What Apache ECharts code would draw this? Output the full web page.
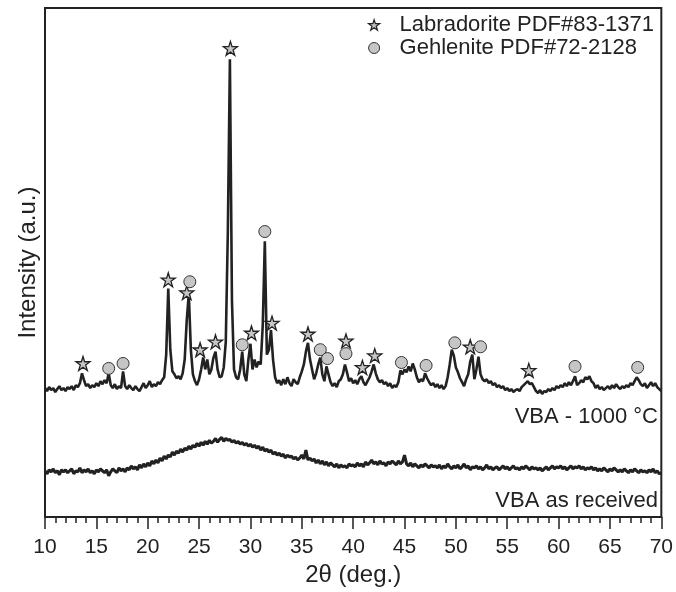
<!DOCTYPE html>
<html>
<head>
<meta charset="utf-8">
<script src="https://cdn.jsdelivr.net/npm/echarts@6/dist/echarts.min.js"></script>
<style>
	html, body { margin: 0; padding: 0; background: #fff; }
	#xrd { width: 676px; height: 592px; }
</style>
</head>
<body>
<div id="xrd"></div>
<script>
	// 2θ grid of the scans
	const thetaStart = 10
	const thetaStep = 0.2

	// VBA - 1000 °C, one value every 0.2° from 10° to 70°
	const vba1000 = [
		131, 128, 132, 129, 131, 127, 130, 133, 129, 131,
		128, 132, 130, 133, 129, 134, 132, 136, 146, 139,
		133, 135, 131, 134, 132, 136, 133, 138, 135, 139,
		136, 146, 134, 131, 135, 130, 133, 131, 148, 133,
		130, 134, 131, 129, 133, 130, 128, 132, 136, 131,
		134, 138, 132, 135, 133, 137, 135, 139, 142, 165,
		232, 170, 148, 145, 141, 143, 140, 146, 160, 200,
		227, 170, 145, 138, 134, 140, 150, 162, 150, 160,
		145, 150, 162, 168, 150, 142, 143, 152, 178, 290,
		465, 220, 150, 142, 140, 150, 168, 145, 138, 160,
		176, 150, 160, 152, 158, 155, 195, 280, 165, 170,
		190, 160, 142, 136, 139, 134, 140, 135, 142, 136,
		133, 140, 137, 135, 142, 148, 155, 168, 177, 160,
		150, 140, 146, 155, 162, 145, 138, 153, 145, 137,
		133, 136, 132, 138, 140, 145, 155, 147, 138, 141,
		136, 139, 135, 140, 143, 137, 134, 138, 142, 148,
		155, 146, 140, 137, 139, 135, 137, 133, 136, 131,
		134, 132, 137, 149, 145, 150, 147, 153, 148, 156,
		150, 142, 137, 140, 138, 146, 141, 137, 134, 136,
		132, 135, 131, 134, 130, 133, 142, 155, 170, 164,
		152, 147, 141, 137, 133, 140, 145, 158, 165, 140,
		150, 163, 145, 140, 138, 140, 136, 138, 134, 136,
		132, 134, 131, 133, 129, 131, 128, 130, 127, 129,
		130, 128, 132, 134, 136, 138, 135, 136, 132, 128,
		126, 129, 125, 128, 127, 130, 128, 131, 129, 133,
		131, 134, 132, 136, 133, 137, 134, 138, 143, 134,
		136, 139, 137, 142, 140, 143, 138, 136, 131, 134,
		130, 132, 129, 131, 133, 130, 134, 131, 135, 132,
		130, 133, 131, 134, 132, 136, 134, 138, 142, 139,
		135, 133, 136, 131, 134, 137, 133, 136, 132, 130,
		128
	]

	// VBA as received, same grid
	const vbaRaw = [
		47, 44, 48, 46, 49, 45, 47, 43, 48, 46,
		48, 45, 47, 49, 44, 47, 46, 50, 45, 48,
		46, 49, 45, 47, 44, 48, 46, 49, 47, 45,
		48, 42, 46, 49, 47, 45, 50, 47, 49, 46,
		50, 48, 52, 49, 51, 48, 53, 50, 54, 51,
		55, 52, 57, 54, 58, 55, 60, 57, 62, 59,
		63, 61, 66, 63, 67, 65, 69, 66, 70, 68,
		72, 69, 73, 71, 75, 72, 76, 73, 77, 74,
		78, 75, 77, 80, 76, 79, 81, 77, 80, 78,
		79, 76, 78, 75, 77, 74, 76, 73, 75, 72,
		74, 71, 73, 70, 72, 68, 71, 67, 69, 66,
		68, 64, 66, 63, 65, 62, 64, 60, 63, 61,
		62, 59, 61, 58, 60, 63, 59, 68, 58, 60,
		57, 59, 55, 58, 54, 57, 53, 56, 52, 55,
		53, 51, 54, 50, 53, 51, 52, 50, 54, 52,
		53, 51, 55, 52, 54, 51, 56, 53, 55, 58,
		54, 56, 53, 57, 54, 55, 52, 56, 54, 57,
		55, 53, 57, 54, 56, 63, 54, 52, 55, 51,
		54, 52, 50, 53, 51, 54, 52, 50, 53, 51,
		52, 50, 53, 49, 52, 50, 54, 51, 49, 52,
		50, 53, 49, 51, 54, 50, 52, 48, 51, 50,
		52, 49, 51, 48, 50, 53, 49, 51, 48, 50,
		51, 48, 50, 52, 49, 51, 48, 50, 52, 49,
		50, 48, 51, 49, 52, 50, 48, 51, 49, 50,
		48, 50, 47, 49, 51, 48, 50, 52, 49, 51,
		50, 52, 49, 51, 48, 50, 52, 49, 51, 50,
		52, 49, 51, 48, 50, 49, 51, 48, 50, 47,
		49, 47, 50, 48, 46, 49, 47, 50, 48, 46,
		48, 46, 49, 47, 45, 48, 46, 49, 47, 45,
		48, 46, 47, 45, 48, 46, 49, 45, 47, 44,
		45
	]

	// phase markers [2θ, height above the peak]
	const labradoriteMarks = [
		[13.7, 156], [22.0, 241], [23.8, 228], [25.1, 170], [26.6, 178],
		[28.05, 476], [30.1, 187], [32.1, 197], [35.6, 186], [39.3, 179],
		[40.9, 152], [42.1, 164], [51.4, 173], [57.1, 149]
	]
	const gehleniteMarks = [
		[16.2, 151], [17.6, 156], [24.1, 239], [29.2, 175], [31.4, 290],
		[36.8, 170], [37.5, 161], [39.3, 166], [44.7, 157], [47.1, 154],
		[49.9, 177], [52.4, 173], [61.6, 153], [67.7, 152]
	]

	const phaseNames = ['Labradorite PDF#83-1371', 'Gehlenite PDF#72-2128']
	const traceNames = ['VBA - 1000 °C', 'VBA as received']

	const starPath = 'path://M50,2 L61,36 L97,36 L68,57 L79,92 L50,71 L21,92 L32,57 L3,36 L39,36 Z'
	const fontFamily = '"Liberation Sans", Arial, sans-serif'
	const ink = '#222'
	const markFill = '#c6c6c6'

	function toPoints(values) {
		return values.map((v, i) => [+(thetaStart + i * thetaStep).toFixed(1), v])
	}

	const chart = echarts.init(document.getElementById('xrd'))

	const option = {
		animation: false,
		textStyle: { fontFamily: fontFamily, color: ink },
		grid: {
			left: 45,
			right: 14,
			top: 8,
			bottom: 67,
			show: true,
			borderColor: ink,
			borderWidth: 2
		},
		legend: {
			data: [
				{
					name: phaseNames[0],
					icon: starPath,
					itemStyle: { color: markFill, borderColor: ink, borderWidth: 1.2 }
				},
				{
					name: phaseNames[1],
					icon: 'circle',
					itemStyle: { color: markFill, borderColor: '#333', borderWidth: 1 }
				}
			],
			orient: 'vertical',
			right: 17,
			top: 9,
			itemWidth: 11,
			itemHeight: 11,
			itemGap: 1,
			textStyle: {
				fontFamily: fontFamily,
				fontSize: 22,
				color: ink,
				lineHeight: 22,
				padding: [0, 0, 0, 15]
			}
		},
		xAxis: {
			type: 'value',
			min: 10,
			max: 70,
			interval: 5,
			name: '2θ (deg.)',
			nameLocation: 'middle',
			nameGap: 40,
			nameTextStyle: { fontSize: 24, color: ink },
			axisLine: { lineStyle: { color: ink, width: 2 } },
			axisTick: { inside: false, length: 12, lineStyle: { color: ink, width: 1.5 } },
			minorTick: { show: true, splitNumber: 5, length: 6, lineStyle: { color: ink, width: 1.5 } },
			axisLabel: { fontSize: 21, color: ink, margin: 20 },
			splitLine: { show: false }
		},
		yAxis: {
			type: 'value',
			min: 0,
			max: 517,
			name: 'Intensity (a.u.)',
			nameLocation: 'middle',
			nameRotate: 90,
			nameGap: 5,
			nameTextStyle: { fontSize: 24, color: ink },
			axisLine: { show: true, lineStyle: { color: ink, width: 2 } },
			axisTick: { show: false },
			axisLabel: { show: false },
			splitLine: { show: false }
		},
		graphic: [
			{
				type: 'text',
				right: 18,
				top: 406,
				style: { text: traceNames[0], font: '22px ' + fontFamily, fill: ink }
			},
			{
				type: 'text',
				right: 18,
				top: 490,
				style: { text: traceNames[1], font: '22px ' + fontFamily, fill: ink }
			}
		],
		series: [
			{
				name: traceNames[0],
				type: 'line',
				data: toPoints(vba1000),
				showSymbol: false,
				lineStyle: { color: ink, width: 2.6 },
				z: 2
			},
			{
				name: traceNames[1],
				type: 'line',
				data: toPoints(vbaRaw),
				showSymbol: false,
				lineStyle: { color: ink, width: 3 },
				z: 2
			},
			{
				name: phaseNames[0],
				type: 'scatter',
				data: labradoriteMarks,
				symbol: starPath,
				symbolSize: 14,
				itemStyle: { color: markFill, borderColor: ink, borderWidth: 1.3, opacity: 1 },
				z: 5
			},
			{
				name: phaseNames[1],
				type: 'scatter',
				data: gehleniteMarks,
				symbol: 'circle',
				symbolSize: 12,
				itemStyle: { color: markFill, borderColor: '#333', borderWidth: 1, opacity: 1 },
				z: 5
			}
		]
	}

	chart.setOption(option)
</script>
</body>
</html>
